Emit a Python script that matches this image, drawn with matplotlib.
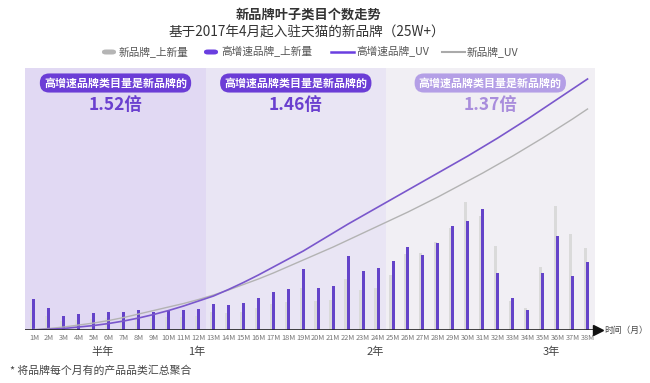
import matplotlib
matplotlib.use('Agg')
import matplotlib.pyplot as plt
from matplotlib.patches import FancyBboxPatch
import numpy as np

plt.rcParams['font.family'] = ['Noto Sans CJK SC', 'DejaVu Sans']

# --- data ---
months = list(range(1, 39))
month_labels = [f"{m}M" for m in months]

# 高增速品牌_上新量 (purple bars)
fast_new = [31, 22, 14, 16, 17, 18, 18, 20, 18, 19, 20, 21, 26, 25, 27, 32, 38, 41, 61, 42,
            44, 74, 59, 62, 69, 83, 75, 87, 104, 109, 121, 57, 32, 20, 57, 94, 54, 68]
# 新品牌_上新量 (gray bars)
brand_new = [20, 14, 9, 10, 11, 12, 12, 13, 12, 13, 13, 14, 18, 17, 18, 22, 26, 28, 42, 29,
             30, 51, 40, 42, 55, 76, 77, 88, 102, 128, 114, 84, 29, 22, 63, 124, 96, 82]
# 高增速品牌_UV (purple line)
fast_uv = [0, 0.7, 1.5, 3, 4.5, 6.5, 9, 12, 15.5, 19.5, 24, 29, 34, 40.5, 47.5, 55, 63, 71, 79, 88,
           97, 106, 114.5, 123, 131.5, 140, 148.5, 157, 165.5, 174, 183, 192, 201.5, 211, 221, 231, 241, 251]
# 新品牌_UV (gray line)
brand_uv = [0.5, 1.5, 3, 5, 7, 9.5, 12.5, 16, 19.5, 23, 26.5, 30.5, 35, 40, 45.5, 51, 57, 63.5, 70, 76.5,
            83, 90, 97, 104, 111, 118, 125.5, 133, 141, 149, 157, 165.5, 174, 183, 192, 201.5, 211, 221]

periods = [(0.4, 12.5), (12.5, 24.5), (24.5, 38.5)]
ratios = ['1.52倍', '1.46倍', '1.37倍']
badge_text = '高增速品牌类目量是新品牌的'
year_labels = ['半年', '1年', '2年', '3年']
year_pos = [5.6, 11.9, 23.8, 35.6]

W, H = 650, 383
fig = plt.figure(figsize=(W / 100, H / 100), dpi=100)


def fx(px):
    return px / W


def fy(py):
    return 1 - py / H


ax = fig.add_axes([fx(25), fy(330), fx(595) - fx(25), fy(68) - fy(330)])
ax.set_xlim(0.4, 38.5)
ax.set_ylim(0, 262)

# background panels
panel_colors = ['#e1d9f3', '#e9e5f4', '#f1eff4']
for (a, b), c in zip(periods, panel_colors):
    ax.axvspan(a, b, color=c, zorder=0, lw=0)

x = np.array(months)
ax.bar(x - 0.15, brand_new, width=0.2, color='#dadada', zorder=2)
ax.bar(x, fast_new, width=0.2, color='#6443c9', zorder=3)
ax.plot(x, brand_uv, color='#b3b3b3', lw=1.0, zorder=4)
ax.plot(x, fast_uv, color='#7a57cc', lw=1.2, zorder=5)

for s in ax.spines.values():
    s.set_visible(False)
ax.axhline(0, color='#222222', lw=1.2, zorder=6)
ax.plot([38.67], [0], marker='>', color='#111111', markersize=7, clip_on=False, zorder=7)
ax.set_yticks([])
ax.set_xticks(months)
ax.set_xticklabels(month_labels, fontsize=5.3, color='#777777')
ax.tick_params(axis='x', length=0, pad=3)

# badges and ratios
for i, ((a, b), r) in enumerate(zip(periods, ratios)):
    cx = (a + b) / 2
    light = i == 2
    ax.text(cx, 247, badge_text, ha='center', va='center', fontsize=7.9, color='white',
            fontweight='bold', zorder=8,
            bbox=dict(boxstyle='round,pad=0.38,rounding_size=0.85',
                      fc='#b49fe6' if light else '#6b3dd6', ec='none'))
    ax.text(cx, 225, r, ha='center', va='center', fontsize=12.5, fontweight='bold',
            color='#a98ddc' if light else '#6a3fcf', zorder=8)

for lbl, p in zip(year_labels, year_pos):
    ax.text(p, -22, lbl, ha='center', va='center', fontsize=8, color='#444444')

fig.text(fx(604), fy(330), '时间（月）', ha='left', va='center', fontsize=6.3, color='#444444')

# titles
fig.text(fx(309), fy(15), '新品牌叶子类目个数走势', ha='center', va='center',
         fontsize=9.5, fontweight='bold', color='#333333')
fig.text(fx(307), fy(33), '基于2017年4月起入驻天猫的新品牌（25W+）', ha='center', va='center',
         fontsize=9.8, color='#333333')

# legend
legend_y = fy(52)
pill_h = 5 / H
fig.patches.append(FancyBboxPatch((fx(102), legend_y - pill_h / 2), fx(14), pill_h,
                                  boxstyle='round,pad=0,rounding_size=0.006',
                                  fc='#b5b5b5', ec='none', transform=fig.transFigure))
fig.text(fx(119), legend_y, '新品牌_上新量', ha='left', va='center', fontsize=7.7, color='#555555')
fig.patches.append(FancyBboxPatch((fx(204), legend_y - pill_h / 2), fx(14), pill_h,
                                  boxstyle='round,pad=0,rounding_size=0.006',
                                  fc='#6a3fe0', ec='none', transform=fig.transFigure))
fig.text(fx(221), legend_y, '高增速品牌_上新量', ha='left', va='center', fontsize=7.7, color='#555555')
fig.add_artist(plt.Line2D([fx(331), fx(354)], [legend_y, legend_y], color='#6a3fe0', lw=1.8))
fig.text(fx(356), legend_y, '高增速品牌_UV', ha='left', va='center', fontsize=7.7, color='#555555')
fig.add_artist(plt.Line2D([fx(442), fx(465)], [legend_y, legend_y], color='#aaaaaa', lw=1.5))
fig.text(fx(467), legend_y, '新品牌_UV', ha='left', va='center', fontsize=7.7, color='#555555')

fig.text(fx(10), fy(371), '* 将品牌每个月有的产品品类汇总聚合', ha='left', va='center',
         fontsize=7.8, color='#444444')

fig.savefig('out.png', dpi=100)
